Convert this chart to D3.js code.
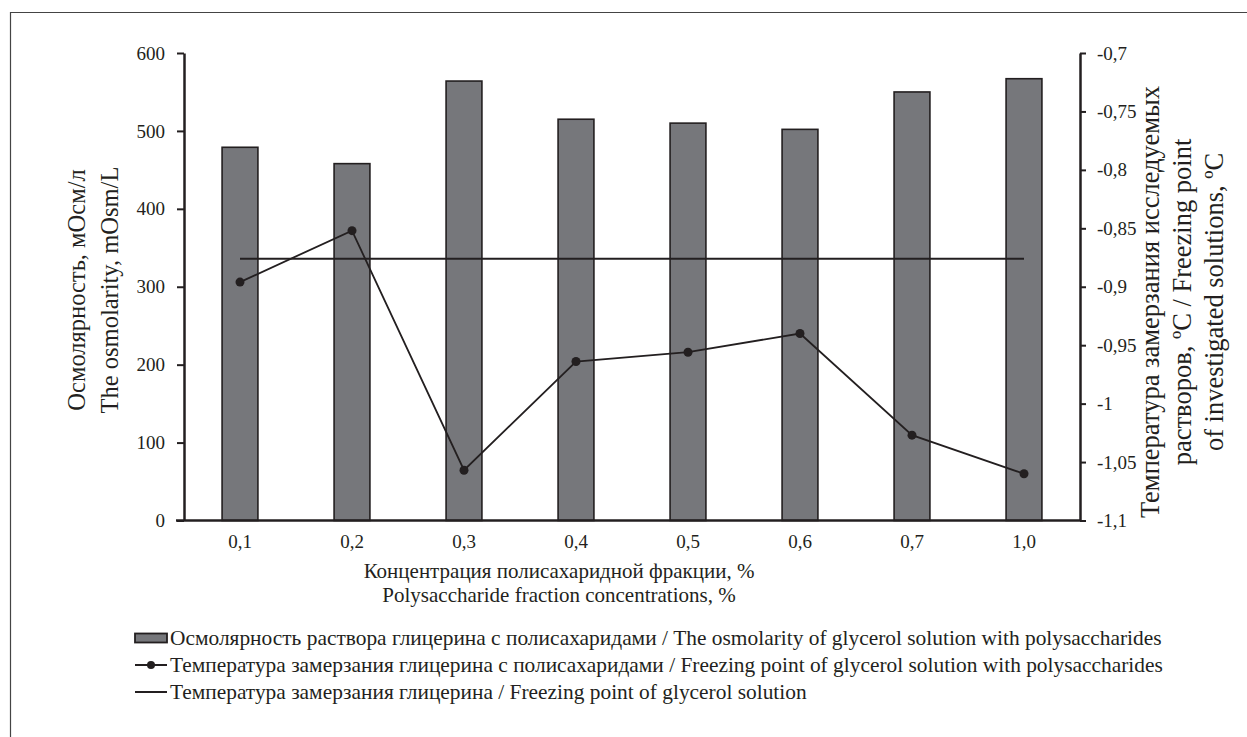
<!DOCTYPE html>
<html><head><meta charset="utf-8">
<script src="https://cdn.jsdelivr.net/npm/d3@7"></script>
<style>body{margin:0;background:#fff}svg{display:block}text{font-family:"Liberation Serif","DejaVu Serif",serif;fill:#231f20}</style>
</head><body>
<script>
const categories = ["0,1","0,2","0,3","0,4","0,5","0,6","0,7","1,0"];
const osmolarity = [479, 458, 564, 515, 510, 502, 550, 567];
const freezingPoly = [-0.896, -0.852, -1.057, -0.964, -0.956, -0.940, -1.027, -1.060];
const freezingGlycerol = [-0.876, -0.876, -0.876, -0.876, -0.876, -0.876, -0.876, -0.876];
const leftTicks = [0,100,200,300,400,500,600];
const rightTicks = [-0.7,-0.75,-0.8,-0.85,-0.9,-0.95,-1,-1.05,-1.1];
const legendLabels = [
 "Осмолярность раствора глицерина с полисахаридами / The osmolarity of glycerol solution with polysaccharides",
 "Температура замерзания глицерина с полисахаридами / Freezing point of glycerol solution with polysaccharides",
 "Температура замерзания глицерина / Freezing point of glycerol solution"];

const W=1247,H=737;
const svg=d3.select("body").append("svg").attr("width",W).attr("height",H);
const ink="#231f20";
// frame
svg.append("path").attr("d","M10.5,737 V12.5 H1247").attr("fill","none").attr("stroke","#444").attr("stroke-width",1.2);

const x0=184,x1=1080,yTop=53,yBot=520.5;
const x=d3.scaleBand().domain(categories).range([x0,x1]).paddingInner(0.68).paddingOuter(0.34);
const yL=d3.scaleLinear().domain([0,600]).range([yBot,yTop]);
const yR=d3.scaleLinear().domain([-1.1,-0.7]).range([yBot,yTop]);
const cx=c=>x(c)+x.bandwidth()/2;

// bars
svg.append("g").selectAll("rect").data(categories).join("rect")
 .attr("x",c=>x(c)).attr("width",x.bandwidth())
 .attr("y",(c,i)=>yL(osmolarity[i])).attr("height",(c,i)=>yBot-yL(osmolarity[i]))
 .attr("fill","#76777b").attr("stroke",ink).attr("stroke-width",1.6);

// glycerol line
const line=d3.line().x((d,i)=>cx(categories[i])).y(d=>yR(d));
svg.append("path").datum(freezingGlycerol).attr("d",line).attr("fill","none").attr("stroke",ink).attr("stroke-width",2);
// poly line
svg.append("path").datum(freezingPoly).attr("d",line).attr("fill","none").attr("stroke",ink).attr("stroke-width",1.8);
svg.append("g").selectAll("circle").data(freezingPoly).join("circle")
 .attr("cx",(d,i)=>cx(categories[i])).attr("cy",d=>yR(d)).attr("r",4.5).attr("fill",ink);

// axes
const fmt=d=>String(d).replace(".",",");
const gl=svg.append("g").attr("transform",`translate(${x0},0)`).call(d3.axisLeft(yL).tickValues(leftTicks).tickSize(7).tickSizeOuter(0).tickPadding(12));
const gr=svg.append("g").attr("transform",`translate(${x1},0)`).call(d3.axisRight(yR).tickValues(rightTicks).tickSize(6).tickSizeOuter(0).tickPadding(11).tickFormat(fmt));
const gx=svg.append("g").attr("transform",`translate(0,${yBot})`).call(d3.axisBottom(x).tickSize(0).tickSizeOuter(0).tickPadding(14));
[gl,gr,gx].forEach(g=>{g.attr("font-family",null).attr("font-size",null);
 g.select(".domain").attr("stroke",ink).attr("stroke-width",2.5);
 g.selectAll(".tick line").attr("stroke",ink).attr("stroke-width",2);
 g.selectAll("text").style("font-family","'Liberation Serif'").style("font-size","19px").attr("fill",ink);});
gx.select(".domain").attr("d",`M${x0-8},0H${x1}`);

// axis titles
const t=svg.append("g");
t.append("text").attr("x",559).attr("y",578).attr("text-anchor","middle").style("font-size","21px").text("Концентрация полисахаридной фракции, %");
t.append("text").attr("x",559).attr("y",602).attr("text-anchor","middle").style("font-size","21px").text("Polysaccharide fraction concentrations, %");
const lt=t.append("text").attr("transform","translate(0,290) rotate(-90)").attr("text-anchor","middle").style("font-size","24.5px");
lt.append("tspan").attr("x",0).attr("y",85).text("Осмолярность, мОсм/л");
lt.append("tspan").attr("x",0).attr("y",118).text("The osmolarity, mOsm/L");
const rt=t.append("text").attr("transform","translate(0,302) rotate(-90)").attr("text-anchor","middle").style("font-size","26.5px");
rt.append("tspan").attr("x",0).attr("y",1159).text("Температура замерзания исследуемых");
rt.append("tspan").attr("x",0).attr("y",1191).text("растворов, ºC / Freezing point");
rt.append("tspan").attr("x",0).attr("y",1223).text("of investigated solutions, ºC");

// legend
const lg=svg.append("g");
const ly=[638,665,692];
lg.append("rect").attr("x",135).attr("y",ly[0]-4.5).attr("width",32).attr("height",9).attr("fill","#76777b").attr("stroke",ink).attr("stroke-width",1.8);
lg.append("line").attr("x1",135).attr("x2",167).attr("y1",ly[1]).attr("y2",ly[1]).attr("stroke",ink).attr("stroke-width",2);
lg.append("circle").attr("cx",151).attr("cy",ly[1]).attr("r",4).attr("fill",ink);
lg.append("line").attr("x1",135).attr("x2",167).attr("y1",ly[2]).attr("y2",ly[2]).attr("stroke",ink).attr("stroke-width",2);
lg.selectAll("text").data(legendLabels).join("text").attr("x",170).attr("y",(d,i)=>ly[i]+7).style("font-size","21.4px").text(d=>d);
</script>
</body></html>
